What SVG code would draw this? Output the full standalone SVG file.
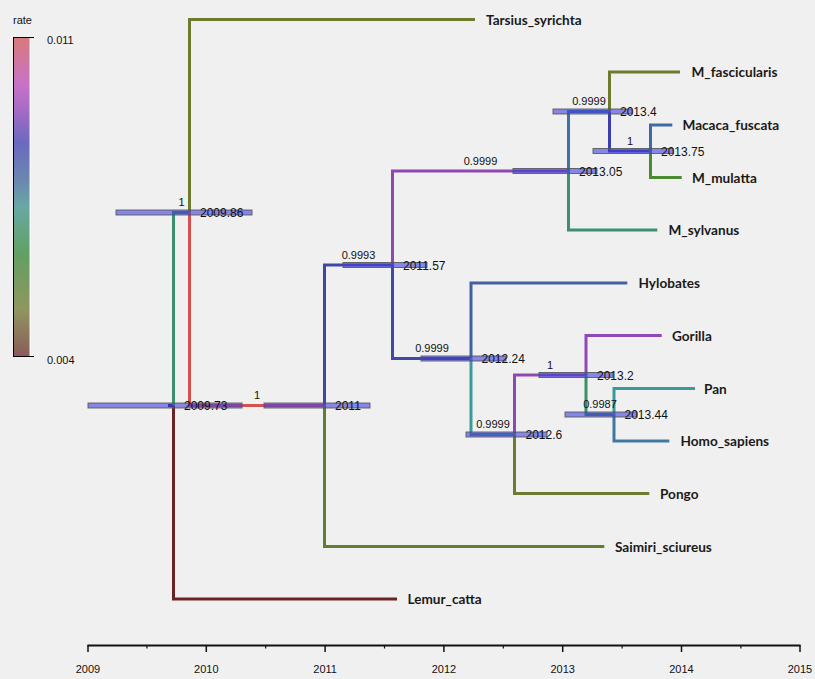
<svg xmlns="http://www.w3.org/2000/svg" width="815" height="679" viewBox="0 0 815 679">
<defs>
<linearGradient id="rateGrad" x1="0" y1="0" x2="0" y2="1">
<stop offset="0" stop-color="#d87a7a"/>
<stop offset="0.15" stop-color="#c872c8"/>
<stop offset="0.25" stop-color="#9a6ac4"/>
<stop offset="0.33" stop-color="#6a6abf"/>
<stop offset="0.45" stop-color="#6a88b0"/>
<stop offset="0.53" stop-color="#68a8a4"/>
<stop offset="0.68" stop-color="#62a062"/>
<stop offset="0.85" stop-color="#909660"/>
<stop offset="1" stop-color="#8a5a5a"/>
</linearGradient>
</defs>
<style>
.br{fill:none;stroke-width:3;stroke-linejoin:miter;stroke-linecap:butt}
.hpd{fill:rgb(64,64,224);fill-opacity:0.6;stroke:#555;stroke-opacity:0.85;stroke-width:1}
.age{font-family:"Liberation Sans",Arial,sans-serif;font-size:12px;fill:#111}
.post{font-family:"Liberation Sans",Arial,sans-serif;font-size:11px;fill:#111;text-anchor:middle}
.leaf{font-family:Lato,"Liberation Sans",sans-serif;font-size:13.6px;font-weight:700;fill:#1a1a1a}
.ax{font-family:"Liberation Sans",Arial,sans-serif;font-size:11px;fill:#111;text-anchor:middle}
.leg{font-family:"Liberation Sans",Arial,sans-serif;font-size:11px;fill:#111}
</style>
<rect x="0" y="0" width="815" height="679" fill="#f0f0f0"/>

<g id="legend">
<text class="leg" x="13" y="24">rate</text>
<rect x="14" y="37" width="16" height="320" fill="url(#rateGrad)"/>
<rect x="29" y="37" width="2" height="320" fill="#ffffff" fill-opacity="0.45"/>
<path d="M13.5,37 V357 M13,37.5 H34 M13,356.5 H34" stroke="#000" stroke-width="1" fill="none"/>
<text class="leg" x="47" y="44">0.011</text>
<text class="leg" x="47" y="364">0.004</text>
</g>

<g id="connectors">
<path class="br" stroke="#24245a" d="M168,405.5 H173.5"/>
<path class="br" stroke="#3a8f6c" d="M173.5,405.5 V212.5 H189.5"/>
<path class="br" stroke="#6a2424" d="M173.5,405.5 V599 H397"/>
<path class="br" stroke="#6e7a2c" d="M189.5,212.5 V19.5 H475"/>
<path class="br" stroke="#d5504e" d="M189.5,212.5 V405.5 H324.5"/>
<path class="br" stroke="#4046a8" d="M324.5,405.5 V265 H392.5"/>
<path class="br" stroke="#647c30" d="M324.5,405.5 V546.5 H604.3"/>
<path class="br" stroke="#8e48b0" d="M392.5,265 V171 H568.5"/>
<path class="br" stroke="#4048a8" d="M392.5,265 V358.5 H471"/>
<path class="br" stroke="#4062a0" d="M471,358.5 V283 H627.3"/>
<path class="br" stroke="#3a9a9c" d="M471,358.5 V434.5 H514.5"/>
<path class="br" stroke="#8e48b4" d="M514.5,434.5 V375 H586"/>
<path class="br" stroke="#6e7a30" d="M514.5,434.5 V493.5 H649.3"/>
<path class="br" stroke="#8e48b8" d="M586,375 V335.5 H661.7"/>
<path class="br" stroke="#3a9068" d="M586,375 V414.5 H614"/>
<path class="br" stroke="#3a9a98" d="M614,414.5 V388.5 H695"/>
<path class="br" stroke="#3f78a0" d="M614,414.5 V441 H669.3"/>
<path class="br" stroke="#4070a8" d="M568.5,171 V111.5 H609.5"/>
<path class="br" stroke="#3a9070" d="M568.5,171 V230 H657.3"/>
<path class="br" stroke="#6e7a2c" d="M609.5,111.5 V72 H680"/>
<path class="br" stroke="#3a3eb0" d="M609.5,111.5 V151 H650.5"/>
<path class="br" stroke="#4068a8" d="M650.5,151 V125 H672.3"/>
<path class="br" stroke="#4a8a30" d="M650.5,151 V177.5 H681.7"/>
</g>

<g id="n2009_73">
<rect class="hpd" x="88" y="403" width="154" height="5"/>
<text class="age" x="184" y="410">2009.73</text>
</g>
<g id="n2009_86">
<rect class="hpd" x="116" y="210" width="136" height="5"/>
<text class="post" x="181.5" y="206">1</text>
<text class="age" x="200" y="217">2009.86</text>
</g>
<g id="n2011">
<rect class="hpd" x="264" y="403" width="106" height="5"/>
<text class="post" x="257" y="399">1</text>
<text class="age" x="335" y="410">2011</text>
</g>
<g id="n2011_57">
<rect class="hpd" x="343" y="262.5" width="84" height="5"/>
<text class="post" x="358.5" y="258.5">0.9993</text>
<text class="age" x="403" y="269.5">2011.57</text>
</g>
<g id="n2013_05">
<rect class="hpd" x="513" y="168.5" width="84" height="5"/>
<text class="post" x="480.5" y="164.5">0.9999</text>
<text class="age" x="579" y="175.5">2013.05</text>
</g>
<g id="n2013_4">
<rect class="hpd" x="553" y="109" width="79" height="5"/>
<text class="post" x="589" y="105">0.9999</text>
<text class="age" x="620" y="116">2013.4</text>
</g>
<g id="n2013_75">
<rect class="hpd" x="593" y="148.5" width="80" height="5"/>
<text class="post" x="630" y="144.5">1</text>
<text class="age" x="661" y="155.5">2013.75</text>
</g>
<g id="n2012_24">
<rect class="hpd" x="421" y="356" width="85" height="5"/>
<text class="post" x="432" y="352">0.9999</text>
<text class="age" x="481.5" y="363">2012.24</text>
</g>
<g id="n2012_6">
<rect class="hpd" x="466" y="432" width="81" height="5"/>
<text class="post" x="493" y="428">0.9999</text>
<text class="age" x="525.5" y="439">2012.6</text>
</g>
<g id="n2013_2">
<rect class="hpd" x="539" y="372.5" width="74" height="5"/>
<text class="post" x="550" y="368.5">1</text>
<text class="age" x="597" y="379.5">2013.2</text>
</g>
<g id="n2013_44">
<rect class="hpd" x="565" y="412" width="72" height="5"/>
<text class="post" x="600" y="408">0.9987</text>
<text class="age" x="624.5" y="419">2013.44</text>
</g>

<g id="Tarsius_syrichta"><text class="leaf" x="486" y="24.5">Tarsius_syrichta</text></g>
<g id="M_fascicularis"><text class="leaf" x="691.5" y="77">M_fascicularis</text></g>
<g id="Macaca_fuscata"><text class="leaf" x="682.5" y="130">Macaca_fuscata</text></g>
<g id="M_mulatta"><text class="leaf" x="692" y="182.5">M_mulatta</text></g>
<g id="M_sylvanus"><text class="leaf" x="668.5" y="235">M_sylvanus</text></g>
<g id="Hylobates"><text class="leaf" x="638.5" y="288">Hylobates</text></g>
<g id="Gorilla"><text class="leaf" x="672" y="340.5">Gorilla</text></g>
<g id="Pan"><text class="leaf" x="704" y="393.5">Pan</text></g>
<g id="Homo_sapiens"><text class="leaf" x="680.5" y="446">Homo_sapiens</text></g>
<g id="Pongo"><text class="leaf" x="660" y="498.5">Pongo</text></g>
<g id="Saimiri_sciureus"><text class="leaf" x="615" y="551.5">Saimiri_sciureus</text></g>
<g id="Lemur_catta"><text class="leaf" x="407.5" y="604">Lemur_catta</text></g>

<g id="axis">
<path d="M87.5,645.5 H800.5" stroke="#111" stroke-width="2" fill="none"/>
<path d="M88,645 V652 M206.3,645 V652 M325.1,645 V652 M443.9,645 V652 M562.7,645 V652 M681.5,645 V652 M800,645 V652" stroke="#111" stroke-width="1.5" fill="none"/>
<path d="M146.9,645 V648.5 M265.7,645 V648.5 M384.5,645 V648.5 M503.3,645 V648.5 M622.1,645 V648.5 M740.9,645 V648.5" stroke="#111" stroke-width="1.2" fill="none"/>
<text class="ax" x="88" y="673">2009</text>
<text class="ax" x="206.3" y="673">2010</text>
<text class="ax" x="325.1" y="673">2011</text>
<text class="ax" x="443.9" y="673">2012</text>
<text class="ax" x="562.7" y="673">2013</text>
<text class="ax" x="681.5" y="673">2014</text>
<text class="ax" x="800" y="673">2015</text>
</g>
</svg>
